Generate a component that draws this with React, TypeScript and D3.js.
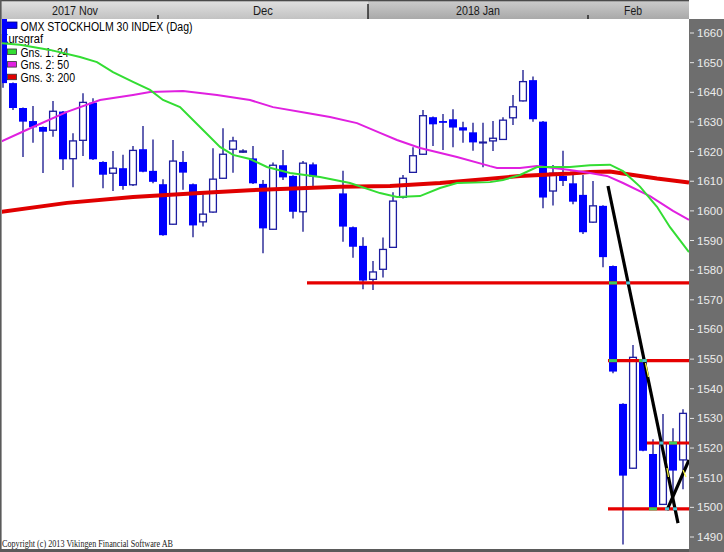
import React from "react";
import * as d3 from "d3";

// ---- Data ----
// daily candles, index 0..68 ; null = no trading (holiday gap)
const opens: (number | null)[] = [
  1665, 1643.1, 1634.7, 1630.3, 1628.3, 1627.2, 1633.5, 1617.6, 1623.8, 1636.5,
  1616.5, 1612.7, 1614.4, 1608.8, 1620.8, 1613.5, 1609.0, 1595.5, 1616.5, 1609.0,
  1596.3, 1599.6, 1611.0, 1620.8, 1619.8, 1617.7, 1609.1, 1593.8, 1615.4, 1611.8,
  1599.7, 1615.7, null, null, 1605.9, 1594.5, 1588.2, 1576.9, 1580.3, 1587.7,
  1604.6, 1613.0, 1619.1, 1631.6, 1630.3, 1630.9, 1628.2, 1626.5, 1623.0, 1623.6,
  1624.1, 1631.4, 1637.1, 1644.1, 1630.1, 1606.7, 1611.8, 1609.3, 1605.4, 1596.2,
  1601.7, 1581.4, 1534.9, 1513.2, 1550.0, 1518.0, 1501.0, 1521.6, 1516.0,
];
const highs: (number | null)[] = [
  1667, 1643.3, 1634.9, 1635.4, 1628.5, 1637.1, 1633.7, 1626.2, 1639.7, 1638.0,
  1616.7, 1620.2, 1618.9, 1621.9, 1628.6, 1624.1, 1610.7, 1623.9, 1620.2, 1609.2,
  1605.6, 1621.1, 1627.9, 1625.0, 1620.8, 1621.9, 1610.4, 1616.3, 1620.5, 1612.0,
  1616.8, 1616.3, null, null, 1613.5, 1594.7, 1591.1, 1583.1, 1591.0, 1606.3,
  1612.1, 1621.5, 1634.0, 1631.8, 1632.7, 1634.3, 1630.1, 1629.7, 1629.7, 1630.3,
  1631.6, 1639.1, 1647.5, 1645.3, 1630.3, 1615.5, 1620.3, 1612.1, 1612.1, 1610.1,
  1601.9, 1581.6, 1535.1, 1554.8, 1550.3, 1523.0, 1531.5, 1526.7, 1533.1,
];
const lows: (number | null)[] = [
  1641.5, 1634.0, 1618.2, 1623.0, 1612.8, 1625.0, 1613.8, 1608.0, 1618.5, 1617.2,
  1607.6, 1606.7, 1607.1, 1608.4, 1613.0, 1609.3, 1591.6, 1595.3, 1607.1, 1591.1,
  1594.7, 1599.4, 1610.8, 1612.9, 1619.5, 1609.1, 1585.7, 1593.6, 1610.4, 1597.4,
  1593.0, 1608.4, null, null, 1589.6, 1584.2, 1573.6, 1573.3, 1577.5, 1587.5,
  1604.2, 1612.8, 1618.9, 1621.9, 1620.5, 1621.5, 1623.0, 1620.3, 1614.7, 1620.2,
  1623.9, 1629.0, 1636.9, 1630.1, 1600.9, 1601.8, 1608.4, 1602.2, 1592.2, 1596.0,
  1581.0, 1545.2, 1487.5, 1513.0, 1518.9, 1499.5, 1500.8, 1504.8, 1506.1,
];
const closes: (number | null)[] = [
  1643.1, 1634.7, 1630.1, 1628.2, 1626.7, 1633.6, 1617.4, 1623.6, 1636.6, 1617.4,
  1612.2, 1614.4, 1608.4, 1620.4, 1613.2, 1609.8, 1591.8, 1616.8, 1612.9, 1595.1,
  1598.9, 1610.7, 1619.1, 1623.6, 1620.2, 1609.3, 1594.1, 1615.4, 1611.3, 1599.7,
  1616.1, 1611.5, null, null, 1594.7, 1587.9, 1576.5, 1579.4, 1587.0, 1603.3,
  1611.0, 1618.6, 1632.1, 1629.2, 1629.7, 1628.1, 1627.1, 1623.1, 1623.2, 1624.5,
  1630.6, 1635.1, 1643.6, 1630.9, 1604.5, 1612.7, 1610.1, 1603.1, 1592.8, 1601.7,
  1584.4, 1545.8, 1510.7, 1550.6, 1519.1, 1499.7, 1521.6, 1512.4, 1531.7,
];

// moving averages: [candle index, value]
const ma24: [number, number][] = [
  [-0.3, 1656.6], [1.7, 1656.0], [4.7, 1654.3], [7.7, 1651.9], [9.4, 1650.2],
  [11, 1646.8], [13, 1643.5], [14.7, 1640.8], [16, 1637.4], [17.7, 1635.0],
  [19.7, 1628.3], [21.7, 1621.6], [23, 1618.9], [24.7, 1617.5], [26.4, 1614.8],
  [28.7, 1612.8], [31.7, 1611.4], [34.7, 1609.4], [37.7, 1606.0], [39.4, 1604.7],
  [41.7, 1605.0], [43.7, 1607.7], [45.4, 1609.4], [48.7, 1609.7], [50, 1610.4],
  [51.7, 1612.1], [53.4, 1614.8], [56.7, 1614.8], [58.7, 1615.4], [60.7, 1615.6],
  [62, 1613.4], [63.7, 1608.2], [65.4, 1601.4], [66.7, 1594.5], [68.6, 1586.1],
];
const ma50: [number, number][] = [
  [-0.3, 1623.2], [3, 1628.3], [6.4, 1633.4], [9.7, 1637.4], [13, 1639.1],
  [14.7, 1640.1], [18, 1640.4], [21.4, 1639.1], [24.7, 1637.4], [27, 1635.0],
  [30.4, 1633.0], [32.7, 1631.7], [35.4, 1629.6], [37.7, 1626.3], [39.4, 1623.9],
  [41.7, 1621.2], [45.4, 1618.2], [48.7, 1615.1], [49.4, 1614.5], [51.7, 1614.5],
  [53.4, 1615.1], [56.7, 1613.8], [58.7, 1612.8], [60.4, 1611.8], [62, 1609.4],
  [64.7, 1605.0], [67, 1600.0], [68.6, 1597.0],
];
const ma200: [number, number][] = [
  [-0.3, 1599.6], [6.4, 1602.7], [13, 1604.7], [19.7, 1606.0], [24.7, 1607.0],
  [33.7, 1608.1], [38.7, 1608.4], [43.7, 1609.4], [48.7, 1610.8], [51.7, 1611.8],
  [56.7, 1612.6], [58.7, 1613.1], [60.7, 1613.3], [62, 1612.6], [65.4, 1610.9],
  [68.6, 1609.6],
];

// hand drawn horizontal support lines: value, from index, to index
const supportValues = [1575.7, 1549.5, 1521.7, 1499.5];
const supportFrom = [30.4, 60.5, 64.4, 60.5];
const supportTo = [68.6, 68.6, 68.6, 68.6];

// hand drawn trend lines: [index, value] endpoints
const trendA: [number, number][] = [[60.5, 1608.4], [67.5, 1494.7]];
const trendB: [number, number][] = [[66.4, 1499.1], [68.6, 1516.0]];

// anchor markers on candle bodies (index, value)
const anchorIdx = [61, 61, 64, 65, 67];
const anchorVal = [1575.7, 1549.5, 1549.5, 1499.5, 1521.7];

const yTicks = [1490, 1500, 1510, 1520, 1530, 1540, 1550, 1560, 1570, 1580, 1590, 1600, 1610, 1620, 1630, 1640, 1650, 1660];
const monthLabels = ["2017 Nov", "Dec", "2018 Jan", "Feb"];
const monthLabelPos = [7.2, 26, 47.5, 63];
const monthBreaks = [15.5, 36.5, 58.5];
const yearBreak = [false, true, false];

const legendTitle = "OMX STOCKHOLM 30 INDEX (Dag)";
const legendSub = "Kursgraf";
const legendItems = ["Gns. 1: 24", "Gns. 2: 50", "Gns. 3: 200"];
const legendColors = ["#33dd33", "#e020e0", "#e00000"];
const copyright = "Copyright (c) 2013 Vikingen Financial Software AB";

export default function App() {
  const W = 724, H = 552;
  const plotL = 2, plotR = 689, plotT = 19, plotB = 549;
  const x = d3.scaleLinear().domain([0, 68]).range([3, 683]);
  const y = d3.scaleLinear().domain([1490, 1660]).range([537, 33]);
  const line = d3.line<[number, number]>().x((d) => x(d[0])).y((d) => y(d[1]));
  const sans = "'Liberation Sans', Arial, Helvetica, sans-serif";
  const monthLen = [46, 20, 44, 18];
  const legendLen = [48, 48.5, 54.5];

  const candles = opens.map((o, i) => {
    if (o == null) return null;
    const c = closes[i] as number, h = highs[i] as number, l = lows[i] as number;
    const cx = x(i);
    const up = c >= o;
    const top = y(Math.max(o, c));
    const bot = y(Math.min(o, c));
    return (
      <g key={i}>
        <line x1={cx} x2={cx} y1={y(h)} y2={y(l)} stroke="#12128a" strokeWidth={1.3} />
        {up ? (
          <rect x={cx - 3.4} y={top} width={6.8} height={Math.max(bot - top, 0.8)} fill="#fff" stroke="#1c1ca0" strokeWidth={1.3} />
        ) : (
          <rect x={cx - 4} y={top} width={8} height={Math.max(bot - top, 1.5)} fill="#0000ff" />
        )}
      </g>
    );
  });

  return (
    <div style={{ position: "absolute", left: 0, top: 0 }}>
      <svg width={W} height={H} style={{ display: "block" }}>
        <defs>
          <linearGradient id="hdrA" x1="0" y1="0" x2="0" y2="1">
            <stop offset="0" stopColor="#e2e2e2" />
            <stop offset="1" stopColor="#c2c2c2" />
          </linearGradient>
          <linearGradient id="hdrB" x1="0" y1="0" x2="0" y2="1">
            <stop offset="0" stopColor="#cdcdcd" />
            <stop offset="1" stopColor="#a9a9a9" />
          </linearGradient>
          <clipPath id="plotClip">
            <rect x={plotL} y={plotT} width={plotR - plotL} height={plotB - plotT} />
          </clipPath>
        </defs>
        <rect x={0} y={0} width={W} height={H} fill="#fff" />

        {/* header */}
        <rect x={0} y={0} width={x(36.5)} height={plotT} fill="url(#hdrA)" />
        <rect x={x(36.5)} y={0} width={plotR - x(36.5)} height={plotT} fill="url(#hdrB)" />
        <rect x={0} y={0} width={plotR} height={1.3} fill="#4a4a4a" />
        {monthBreaks.map((m, i) => (
          <line key={i} x1={x(m)} x2={x(m)} y1={yearBreak[i] ? 4 : 15} y2={plotT} stroke="#111" strokeWidth={1.3} />
        ))}
        {monthLabels.map((t, i) => (
          <text key={t} x={x(monthLabelPos[i]) - monthLen[i] / 2} y={15} fontFamily={sans} fontSize={12.5}
            textLength={monthLen[i]} lengthAdjust="spacingAndGlyphs" fill="#1a1a1a">{t}</text>
        ))}

        {/* legend */}
        <g fontFamily={sans} fontSize={12} fill="#000">
          <rect x={4} y={22} width={13} height={6.5} fill="#0000ff" stroke="#00007a" strokeWidth={0.8} />
          <text x={20.5} y={30.5} textLength={172} lengthAdjust="spacingAndGlyphs">{legendTitle}</text>
          <text x={1} y={43} textLength={42} lengthAdjust="spacingAndGlyphs">{legendSub}</text>
          {legendItems.map((t, i) => (
            <g key={t}>
              <rect x={7.5} y={49 + i * 12.6} width={9} height={5.5} fill={legendColors[i]} stroke="#333" strokeWidth={0.8} />
              <text x={20.5} y={56.5 + i * 12.6} textLength={legendLen[i]} lengthAdjust="spacingAndGlyphs">{t}</text>
            </g>
          ))}
        </g>

        <g clipPath="url(#plotClip)">
          {candles}
          <path d={line(ma200) || ""} fill="none" stroke="#e00000" strokeWidth={4} />
          <path d={line(ma50) || ""} fill="none" stroke="#e020e0" strokeWidth={2} />
          <path d={line(ma24) || ""} fill="none" stroke="#33dd33" strokeWidth={2} />
          {supportValues.map((v, i) => (
            <line key={i} x1={x(supportFrom[i])} x2={x(supportTo[i])} y1={y(v)} y2={y(v)} stroke="#e60000" strokeWidth={3.2} />
          ))}
          {anchorIdx.map((a, i) => (
            <rect key={i} x={x(a) - 4} y={y(anchorVal[i]) - 1.5} width={8} height={3} fill="#3ccf5a" />
          ))}
          <path d={line(trendA) || ""} fill="none" stroke="#000" strokeWidth={3.2} />
          <path d={line(trendB) || ""} fill="none" stroke="#000" strokeWidth={3.2} />
          {/* small highlights on trend lines */}
          <line x1={645.5} y1={363} x2={648.5} y2={377} stroke="#ffff40" strokeWidth={1.2} />
          <line x1={667} y1={468} x2={668.5} y2={477} stroke="#ffff40" strokeWidth={1.2} />
          <line x1={683} y1={470} x2={686} y2={477} stroke="#ffff40" strokeWidth={1.2} />
          {supportValues.map((v, i) => {
            const [a0, a1] = trendA;
            const t = (v - a0[1]) / (a1[1] - a0[1]);
            const xi = a0[0] + t * (a1[0] - a0[0]);
            return <rect key={"c" + i} x={x(xi) - 2} y={y(v) - 1.5} width={4} height={3} fill="#4fc6d6" />;
          })}
          <rect x={x(66.4) - 2} y={y(1499.5) - 1.5} width={4} height={3} fill="#4fc6d6" />
        </g>

        {/* right axis panel */}
        <rect x={plotR} y={plotT} width={W - plotR} height={H - plotT} fill="#6e6e6e" />
        {yTicks.map((t) => (
          <g key={t}>
            <line x1={690} x2={694} y1={y(t)} y2={y(t)} stroke="#e6e6e6" strokeWidth={1} />
            <text x={697} y={y(t) + 4} fontFamily={sans} fontSize={11.5} fill="#ececec">{t}</text>
          </g>
        ))}

        {/* borders */}
        <rect x={0} y={0} width={1.6} height={H} fill="#5a5a5a" />
        <rect x={0} y={plotB} width={plotR} height={H - plotB} fill="#5a5a5a" />

        <text x={2} y={547} fontFamily="'Liberation Serif', 'Times New Roman', serif" fontSize={10} fill="#222"
          textLength={171} lengthAdjust="spacingAndGlyphs">{copyright}</text>
      </svg>
    </div>
  );
}
